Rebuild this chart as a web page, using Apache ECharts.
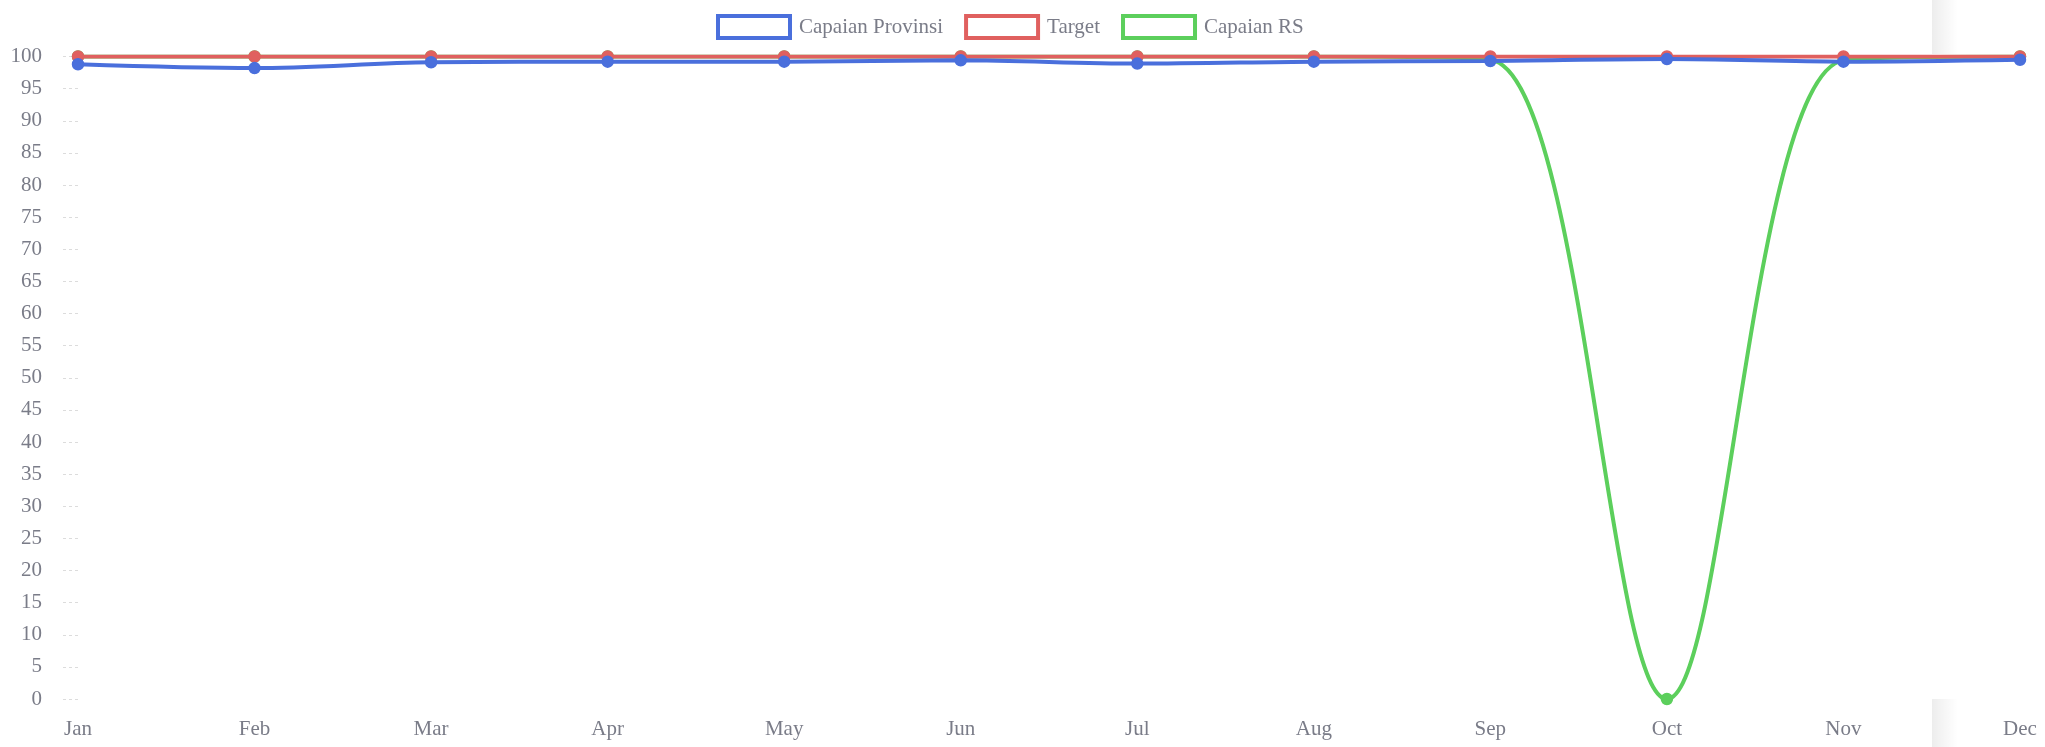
<!DOCTYPE html>
<html>
<head>
<meta charset="utf-8">
<script src="https://cdn.jsdelivr.net/npm/echarts@6/dist/echarts.min.js"></script>
<style>
html,body{margin:0;padding:0;background:#fff;}
#chart{width:2045px;height:747px;}
</style>
</head>
<body>
<div id="chart"></div>
<script>
const categories = ['Jan','Feb','Mar','Apr','May','Jun','Jul','Aug','Sep','Oct','Nov','Dec'];
const capaianProvinsi = [98.8, 98.2, 99.1, 99.2, 99.2, 99.4, 98.9, 99.2, 99.3, 99.6, 99.2, 99.5];
const target = [100, 100, 100, 100, 100, 100, 100, 100, 100, 100, 100, 100];
const capaianRS = [100, 100, 100, 100, 100, 100, 100, 100, 99.5, 0, 99.4, 100];
const yTicks = {min: 0, max: 100, interval: 5};

const FONT = '"Liberation Serif", "DejaVu Serif", serif';
const TXT = '#7a7c88';
const BLUE = '#4a6fdc', RED = '#e0605f', GREEN = '#5ccf5c';

const chart = echarts.init(document.getElementById('chart'));

function lineSeries(name, data, color, z) {
  return {
    name: name, type: 'line', data: data, z: z,
    smooth: 0.33,
    symbol: 'circle', symbolSize: 11,
    lineStyle: {color: color, width: 4},
    itemStyle: {color: color, borderColor: color, borderWidth: 1.5},
    emphasis: {disabled: true}
  };
}

chart.setOption({
  animation: false,
  backgroundColor: '#fff',
  textStyle: {fontFamily: FONT},
  graphic: [
    {type: 'rect', z: -10, shape: {x: 1932, y: 0, width: 26, height: 54},
     style: {fill: new echarts.graphic.LinearGradient(0, 0, 1, 0, [
       {offset: 0, color: 'rgba(0,0,0,0.07)'}, {offset: 1, color: 'rgba(0,0,0,0)'}])}},
    {type: 'rect', z: -10, shape: {x: 1932, y: 699, width: 26, height: 48},
     style: {fill: new echarts.graphic.LinearGradient(0, 0, 1, 0, [
       {offset: 0, color: 'rgba(0,0,0,0.07)'}, {offset: 1, color: 'rgba(0,0,0,0)'}])}}
  ],
  legend: {
    top: 9, left: 711,
    itemWidth: 72, itemHeight: 22, itemGap: 21,
    icon: 'rect',
    textStyle: {fontFamily: FONT, fontSize: 21, color: TXT, padding: [0, 0, 0, 4]},
    data: [
      {name: 'Capaian Provinsi', itemStyle: {color: '#fff', borderColor: BLUE, borderWidth: 4}},
      {name: 'Target', itemStyle: {color: '#fff', borderColor: RED, borderWidth: 4}},
      {name: 'Capaian RS', itemStyle: {color: '#fff', borderColor: GREEN, borderWidth: 4}}
    ]
  },
  grid: {left: 78, right: 25, top: 56.5, bottom: 48, containLabel: false},
  xAxis: {
    type: 'category', data: categories, boundaryGap: false,
    axisLine: {show: false}, axisTick: {show: false}, splitLine: {show: false},
    axisLabel: {fontFamily: FONT, fontSize: 21, color: TXT, margin: 20}
  },
  yAxis: {
    type: 'value', min: yTicks.min, max: yTicks.max, interval: yTicks.interval,
    axisLine: {show: false},
    axisTick: {show: true, length: 18, lineStyle: {color: '#dcdcdc', type: [3, 3], width: 1}},
    splitLine: {show: false},
    axisLabel: {fontFamily: FONT, fontSize: 21, color: TXT, margin: 36}
  },
  series: [
    lineSeries('Capaian Provinsi', capaianProvinsi, BLUE, 4),
    lineSeries('Target', target, RED, 3),
    lineSeries('Capaian RS', capaianRS, GREEN, 2)
  ]
});
</script>
</body>
</html>
